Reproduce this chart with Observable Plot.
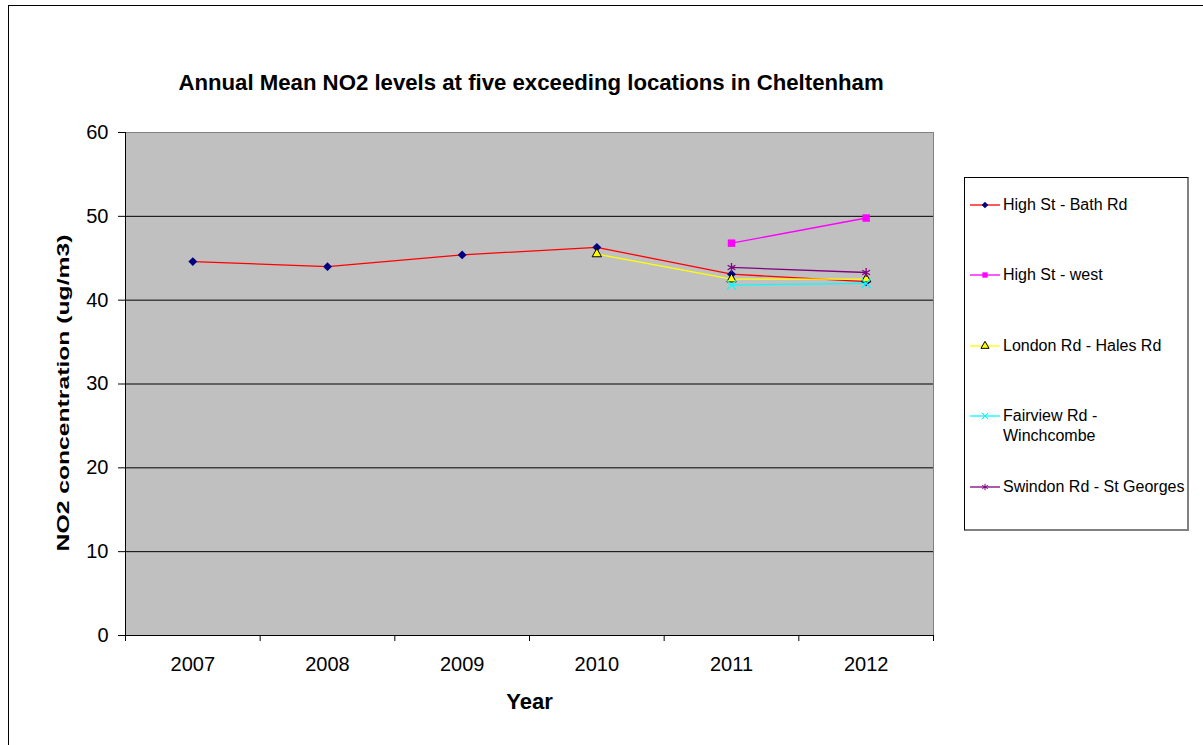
<!DOCTYPE html>
<html>
<head>
<meta charset="utf-8">
<script src="https://cdn.jsdelivr.net/npm/d3@7"></script>
<script src="https://cdn.jsdelivr.net/npm/@observablehq/plot@0.6"></script>
<style>
  html, body { margin: 0; padding: 0; background: #fff; }
  #chart { position: relative; width: 1203px; height: 745px; overflow: hidden;
           font-family: "Liberation Sans", Arial, sans-serif; color: #000; }
  #border { position: absolute; left: 8px; top: 5px; width: 1400px; height: 1000px;
            border: 1px solid #000; box-sizing: border-box; }
  #plot { position: absolute; left: 0; top: 0; }
  #legend { position: absolute; left: 964px; top: 177px; width: 225px; height: 354px;
            box-sizing: border-box; background: #fff;
            border-top: 1px solid #000; border-left: 1px solid #000;
            border-right: 2px solid #808080; border-bottom: 2px solid #808080; }
  .item { position: absolute; left: 5px; display: flex; align-items: flex-start; }
  .item svg { flex: none; }
  .item span { display: block; width: 184px; margin-left: 3px; font-size: 16px; line-height: 20px; }
</style>
</head>
<body>
<div id="chart">
  <div id="border"></div>
  <div id="plot"></div>
  <div id="legend"></div>
</div>
<script>
// Annual mean NO2 (ug/m3) by monitoring site; null = no measurement that year
const years = [2007, 2008, 2009, 2010, 2011, 2012];
const highStBathRd   = [44.6, 44.0, 45.4, 46.3, 43.1, 42.2];
const highStWest     = [null, null, null, null, 46.8, 49.8];
const londonRdHales  = [null, null, null, 45.5, 42.5, 42.5];
const fairviewRd     = [null, null, null, null, 41.8, 42.0];
const swindonRd      = [null, null, null, null, 43.9, 43.3];

const seriesNames = [
  "High St - Bath Rd",
  "High St - west",
  "London Rd - Hales Rd",
  "Fairview Rd - Winchcombe",
  "Swindon Rd - St Georges"
];
const seriesValues = [highStBathRd, highStWest, londonRdHales, fairviewRd, swindonRd];
const yTicks = [0, 10, 20, 30, 40, 50, 60];

const title = "Annual Mean NO2 levels at five exceeding locations in Cheltenham";
const xLabel = "Year";
const yLabel = "NO2 concentration (ug/m3)";

// Excel-style line colours and markers for each series
const styles = [
  {line: "#ff0000", symbol: "diamond2", fill: "#000080", stroke: "none",    r: 4.0},
  {line: "#ff00ff", symbol: "square",   fill: "#ff00ff", stroke: "none",    r: 4.2},
  {line: "#ffff00", symbol: "triangle", fill: "#ffff00", stroke: "#000",    r: 3.5},
  {line: "#00ffff", symbol: "times",    fill: "none",    stroke: "#00ffff", r: 4.2},
  {line: "#800080", symbol: "asterisk", fill: "none",    stroke: "#800080", r: 4.2}
];

// Long table of defined points per series
const rows = seriesNames.map((name, i) =>
  years.map((year, j) => ({series: name, year, value: seriesValues[i][j]}))
       .filter(d => d.value != null)
);

// Category boundaries for the x-axis tick marks
const boundaries = years.map(y => y - 0.5).concat([years[years.length - 1] + 0.5]);
const xDomain = [boundaries[0], boundaries[boundaries.length - 1]];

const seriesMarks = rows.flatMap((data, i) => {
  const s = styles[i];
  return [
    Plot.line(data, {x: "year", y: "value", stroke: s.line, strokeWidth: 1.3}),
    Plot.dot(data, {x: "year", y: "value", symbol: s.symbol, r: s.r,
                    fill: s.fill, stroke: s.stroke, strokeWidth: s.stroke === "#000" ? 1 : 1.3})
  ];
});

const plot = Plot.plot({
  width: 1203,
  height: 745,
  marginLeft: 125,
  marginRight: 270,
  marginTop: 132,
  marginBottom: 110,
  style: {fontFamily: '"Liberation Sans", Arial, sans-serif', fontSize: "20px", color: "#000", background: "transparent", overflow: "visible"},
  x: {domain: xDomain},
  y: {domain: [yTicks[0], yTicks[yTicks.length - 1]]},
  marks: [
    Plot.frame({fill: "#c0c0c0", stroke: "#808080"}),
    Plot.gridY(yTicks.slice(1, -1), {stroke: "#000", strokeOpacity: 1}),
    Plot.ruleX([xDomain[0]], {stroke: "#000"}),
    Plot.ruleY([yTicks[0]], {stroke: "#000"}),
    Plot.axisY({ticks: yTicks, tickSize: 7, tickPadding: 10, label: null, fontSize: 20, stroke: "#000"}),
    Plot.axisX({ticks: boundaries, tickFormat: () => "", tickSize: 6, label: null, stroke: "#000"}),
    Plot.axisX({ticks: years, tickFormat: d => String(d), tickSize: 0, tickPadding: 21, label: null, fontSize: 20}),
    ...seriesMarks,
    Plot.text([title], {text: d => d, frameAnchor: "top", lineAnchor: "middle", dy: -50, dx: 1.5, fontSize: 22.2, fontWeight: "bold"}),
    Plot.text([xLabel], {text: d => d, frameAnchor: "bottom", lineAnchor: "middle", dy: 66, fontSize: 22, fontWeight: "bold"}),
    Plot.text([yLabel], {text: d => d, frameAnchor: "left", textAnchor: "middle", lineAnchor: "middle",
                         dx: -62, dy: 9, rotate: -90, fontSize: 17, fontWeight: "bold"})
  ]
});

document.getElementById("plot").appendChild(plot);

// The vertical axis title is set in a stretched face: widen it along its baseline
d3.select(plot).selectAll("text")
  .filter(function() { return this.textContent === yLabel; })
  .each(function() {
    const len = this.getComputedTextLength();
    const t = this.getAttribute("transform") || "";
    this.setAttribute("transform", t + ` scale(${317 / len},1)`);
  });

// Legend: line sample with marker, then the site name
const legend = d3.select("#legend");
const rowTops = [17, 87, 158, 228, 299];
const symbolTypes = {diamond2: d3.symbolDiamond2, square: d3.symbolSquare, triangle: d3.symbolTriangle,
                     times: d3.symbolTimes, asterisk: d3.symbolAsterisk};
seriesNames.forEach((name, i) => {
  const s = styles[i];
  const item = legend.append("div").attr("class", "item").style("top", rowTops[i] + "px");
  const svg = item.append("svg").attr("width", 30).attr("height", 20);
  svg.append("line").attr("x1", 0).attr("x2", 30).attr("y1", 10).attr("y2", 10)
     .attr("stroke", s.line).attr("stroke-width", 1.3);
  svg.append("path").attr("transform", "translate(15,10)")
     .attr("d", d3.symbol(symbolTypes[s.symbol], Math.PI * 3 * 3)())
     .attr("fill", s.fill).attr("stroke", s.stroke).attr("stroke-width", 1);
  item.append("span").text(name);
});
</script>
</body>
</html>
